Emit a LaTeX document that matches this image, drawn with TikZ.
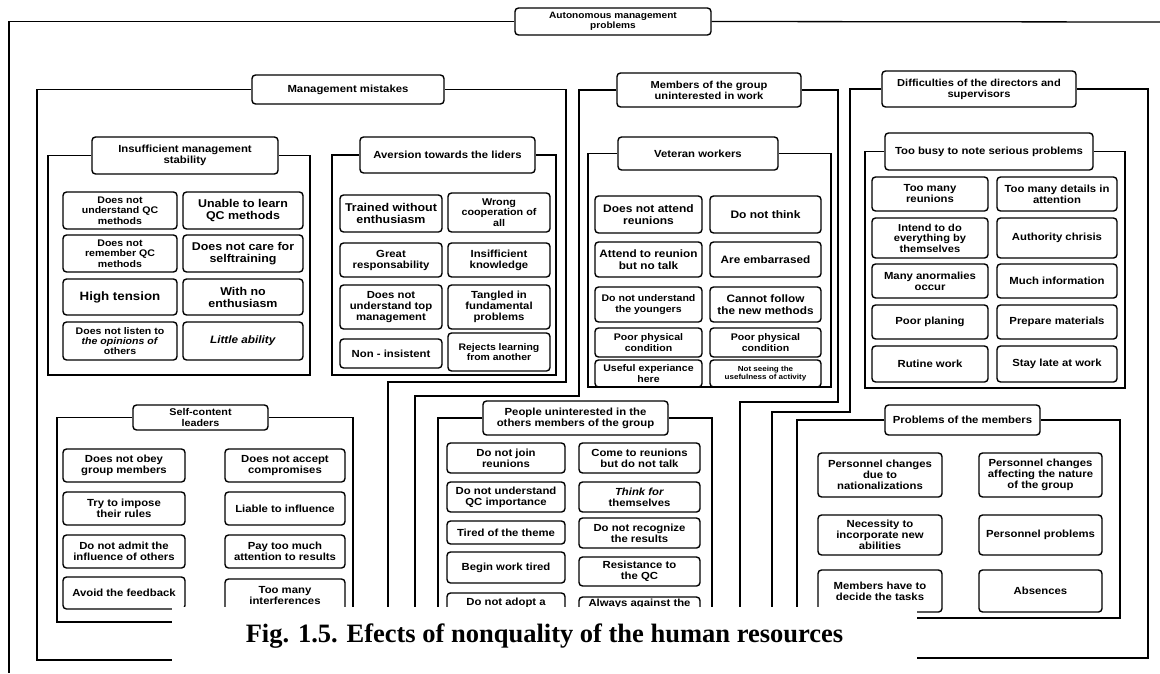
\documentclass[tikz,border=0pt]{standalone}
\usepackage{fontspec}
\setsansfont{Liberation Sans}[FakeStretch=1.1]
\newfontfamily\capfont{Liberation Serif}
\newcommand\mybox[7][]{\node[bx,#1,minimum width={#5pt-#3pt},minimum height={#6pt-#4pt}] (#2) at ({(#3+#5)/2},{(#4+#6)/2}) {#7};}
\tikzset{
  bx/.style={draw, line width=1.4pt, rounded corners=3.5pt, fill=white, align=center, inner sep=0pt,
    font=\sffamily\bfseries\fontsize{10.3}{11}\selectfont},
  fs/.style 2 args={font=\sffamily\bfseries\fontsize{#1}{#2}\selectfont},
  frm/.style={line width=1.3pt, line join=miter},
}
\begin{document}
\begin{tikzpicture}[x=1pt,y=-1pt]
\useasboundingbox (0,0) rectangle (1160,673);
\fill[white] (0,0) rectangle (1160,673);

% ---------- top level ----------
\mybox[fs={9.2}{10}]{auto}{515}{8}{711}{35}{Autonomous management\\problems}
\mybox{mm}{252}{75}{444}{104}{Management mistakes}
\mybox[fs={10.1}{11.2}]{mg}{617}{73}{801}{107}{Members of the group\\uninterested in work}
\mybox[fs={10.1}{11.2}]{df}{882}{71}{1076}{107}{Difficulties of the directors and\\supervisors}

% ---------- group headers ----------
\mybox{ins}{92}{137}{278}{174}{Insufficient management\\stability}
\mybox{av}{360}{137}{535}{173}{Aversion towards the liders}
\mybox[fs={9.8}{10.3}]{sc}{133}{405}{268}{430}{Self-content\\leaders}
\mybox{vw}{618}{137}{778}{170}{Veteran workers}
\mybox{tb}{885}{133}{1093}{170}{Too busy to note serious problems}
\mybox{pm}{885}{405}{1040}{435}{Problems of the members}
\mybox{pu}{483}{401}{668}{435}{People uninterested in the\\others members of the group}

% ---------- Insufficient management stability ----------
\mybox[fs={9.6}{10.3}]{i11}{63}{192}{177}{229}{Does not\\understand QC\\methods}
\mybox[fs={11.3}{12}]{i12}{183}{192}{303}{229}{Unable to learn\\QC methods}
\mybox[fs={9.6}{10.3}]{i21}{63}{235}{177}{272}{Does not\\remember QC\\methods}
\mybox[fs={11.3}{12}]{i22}{183}{235}{303}{272}{Does not care for\\selftraining}
\mybox[fs={12.1}{13}]{i31}{63}{279}{177}{315}{High tension}
\mybox[fs={11.3}{12}]{i32}{183}{279}{303}{315}{With no\\enthusiasm}
\mybox[fs={9.6}{10.3}]{i41}{63}{322}{177}{360}{Does not listen to\\\textit{the opinions of}\\others}
\mybox[fs={10.7}{11.5}]{i42}{183}{322}{303}{360}{\textit{Little ability}}

% ---------- Aversion towards the liders ----------
\mybox[fs={11.3}{12}]{a11}{340}{195}{442}{232}{Trained without\\enthusiasm}
\mybox[fs={9.8}{10.8}]{a12}{448}{193}{550}{232}{Wrong\\cooperation of\\all}
\mybox{a21}{340}{243}{442}{277}{Great\\responsability}
\mybox{a22}{448}{243}{550}{277}{Insifficient\\knowledge}
\mybox{a31}{340}{285}{442}{329}{Does not\\understand top\\management}
\mybox{a32}{448}{285}{550}{329}{Tangled in\\fundamental\\problems}
\mybox{a41}{340}{339}{442}{368}{Non - insistent}
\mybox[fs={9.5}{10.5}]{a42}{448}{333}{550}{371}{Rejects learning\\from another}

% ---------- Self-content leaders ----------
\mybox{s11}{63}{449}{185}{482}{Does not obey\\group members}
\mybox{s12}{225}{449}{345}{482}{Does not accept\\compromises}
\mybox{s21}{63}{492}{185}{525}{Try to impose\\their rules}
\mybox{s22}{225}{492}{345}{525}{Liable to influence}
\mybox{s31}{63}{535}{185}{568}{Do not admit the\\influence of others}
\mybox{s32}{225}{535}{345}{568}{Pay too much\\attention to results}
\mybox{s41}{63}{577}{185}{609}{Avoid the feedback}
\mybox{s42}{225}{579}{345}{612}{Too many\\interferences}

% ---------- Veteran workers ----------
\mybox[fs={10.9}{12}]{v11}{595}{196}{702}{233}{Does not attend\\reunions}
\mybox[fs={10.9}{12}]{v12}{710}{196}{821}{233}{Do not think}
\mybox[fs={10.7}{11.5}]{v21}{595}{242}{702}{277}{Attend to reunion\\but no talk}
\mybox[fs={10.7}{11.5}]{v22}{710}{242}{821}{277}{Are embarrased}
\mybox[fs={9.6}{10.3}]{v31}{595}{287}{702}{322}{Do not understand\\the youngers}
\mybox[fs={10.7}{11.5}]{v32}{710}{287}{821}{322}{Cannot follow\\the new methods}
\mybox[fs={9.6}{10.3}]{v41}{595}{328}{702}{357}{Poor physical\\condition}
\mybox[fs={9.6}{10.3}]{v42}{710}{328}{821}{357}{Poor physical\\condition}
\mybox[fs={9.6}{10.3}]{v51}{595}{360}{702}{387}{Useful experiance\\here}
\mybox[fs={7.3}{8}]{v52}{710}{360}{821}{387}{Not seeing the\\usefulness of activity}

% ---------- Too busy to note serious problems ----------
\mybox{t11}{872}{177}{988}{211}{Too many\\reunions}
\mybox{t12}{997}{177}{1117}{211}{Too many details in\\attention}
\mybox[fs={10.1}{10.6}]{t21}{872}{218}{988}{258}{Intend to do\\everything by\\themselves}
\mybox{t22}{997}{218}{1117}{258}{Authority chrisis}
\mybox{t31}{872}{264}{988}{298}{Many anormalies\\occur}
\mybox{t32}{997}{264}{1117}{298}{Much information}
\mybox{t41}{872}{305}{988}{339}{Poor planing}
\mybox{t42}{997}{305}{1117}{339}{Prepare materials}
\mybox{t51}{872}{346}{988}{382}{Rutine work}
\mybox{t52}{997}{346}{1117}{382}{Stay late at work}

% ---------- Problems of the members ----------
\mybox{p11}{818}{453}{942}{497}{Personnel changes\\due to\\nationalizations}
\mybox{p12}{979}{453}{1102}{497}{Personnel changes\\affecting the nature\\of the group}
\mybox{p21}{818}{515}{942}{555}{Necessity to\\incorporate new\\abilities}
\mybox{p22}{979}{515}{1102}{555}{Personnel problems}
\mybox{p31}{818}{570}{942}{612}{Members have to\\decide the tasks}
\mybox{p32}{979}{570}{1102}{612}{Absences}

% ---------- People uninterested ----------
\mybox{u11}{447}{443}{565}{473}{Do not join\\reunions}
\mybox{u12}{579}{443}{700}{473}{Come to reunions\\but do not talk}
\mybox{u21}{447}{482}{565}{512}{Do not understand\\QC importance}
\mybox{u22}{579}{482}{700}{512}{\textit{Think for}\\themselves}
\mybox{u31}{447}{521}{565}{544}{Tired of the theme}
\mybox{u32}{579}{518}{700}{548}{Do not recognize\\the results}
\mybox{u41}{447}{552}{565}{583}{Begin work tired}
\mybox{u42}{579}{557}{700}{586}{Resistance to\\the QC}
\mybox{u51}{447}{593}{565}{613}{Do not adopt a}
\mybox{u52}{579}{597}{700}{611}{Always against the}

% ---------- frames ----------
\draw[frm] (auto.west) -| (9,673);
\draw[frm] (auto.east) -- (1160,22);
\draw[frm] (mm.west) -| (37,660) -- (388,660) |- (566,382) |- (mm.east);
\draw[frm] (mg.west) -| (579,396) -| (415,650) -- (740,650) |- (838,402) |- (mg.east);
\draw[frm] (df.west) -| (850,412) -| (772,658) -- (1148,658) |- (df.east);

\draw[frm] (ins.west) -| (48,375) -- (310,375) |- (ins.east);
\draw[frm] (av.west) -| (332,375) -- (556,375) |- (av.east);
\draw[frm] (sc.west) -| (57,622) -- (353,622) |- (sc.east);
\draw[frm] (vw.west) -| (588,387) -- (831,387) |- (vw.east);
\draw[frm] (tb.west) -| (865,388) -- (1125,388) |- (tb.east);
\draw[frm] (pm.west) -| (797,618) -- (1120,618) |- (pm.east);
\draw[frm] (pu.west) -| (438,645) -- (712,645) |- (pu.east);

% ---------- caption ----------
\fill[white] (172,607) rectangle (917,665);
\node[font=\capfont\bfseries\fontsize{26.5}{30}\selectfont, anchor=base, inner sep=0pt] (cap) at (544.5,642) {Fig. 1.5. Efects of nonquality of the human resources};
\end{tikzpicture}
\end{document}
